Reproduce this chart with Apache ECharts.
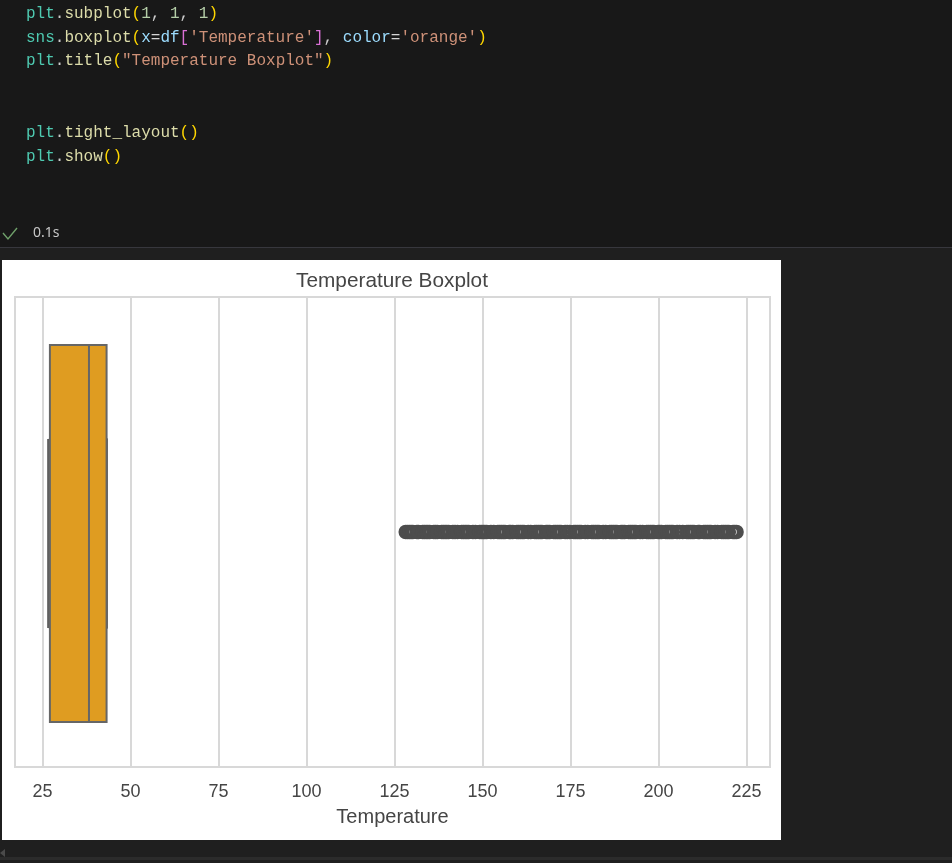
<!DOCTYPE html>
<html><head><meta charset="utf-8">
<style>html,body{margin:0;padding:0;background:#1f1f1f}#c{width:952px;height:863px}</style>
<script src="https://cdn.jsdelivr.net/npm/echarts@6/dist/echarts.min.js"></script>
</head><body><div id="c"></div>
<script>
const categories = ['Temperature'];
const whiskerLow = 26.6, q1 = 27.1, median = 38.2, q3 = 43.2, whiskerHigh = 43.3;
const tickValues = [25, 50, 75, 100, 125, 150, 175, 200, 225];
const outliers = [
128.2,128.7,129.2,129.7,130.2,131.4,131.8,
133.0,133.5,134.0,134.5,135.0,136.2,136.7,137.2,
138.4,138.9,139.4,139.9,140.4,141.6,142.2,142.9,
144.1,144.6,145.1,145.6,146.1,147.3,148.0,
149.2,149.7,150.2,150.7,151.2,152.4,153.2,
154.4,154.9,155.4,155.9,156.4,157.6,158.0,158.6,
159.8,160.3,160.8,161.3,161.8,163.0,163.7,
164.9,165.4,165.9,166.4,166.9,168.1,168.6,169.1,
170.3,170.8,171.3,171.8,172.3,173.5,174.1,174.8,
176.0,176.5,177.0,177.5,178.0,179.2,179.9,
181.1,181.6,182.1,182.6,183.1,184.3,185.0,
186.2,186.7,187.2,187.7,188.2,189.4,189.9,190.4,
191.6,192.1,192.6,193.1,193.6,194.8,195.5,
196.7,197.2,197.7,198.2,198.7,199.9,200.4,200.9,
202.1,202.6,203.1,203.6,204.1,205.3,206.0,206.9,
208.1,208.6,209.1,209.6,210.1,211.3,211.7,
212.9,213.4,213.9,214.4,214.9,216.1,216.8,
218.0,218.5,219.0,219.5,220.0,221.2,221.7,222.2
];
const codeLines = [
  {row:0, tokens:[['plt','#4ec9b0'],['.','#cccccc'],['subplot','#dcdcaa'],['(','#ffd700'],['1','#b5cea8'],[', ','#cccccc'],['1','#b5cea8'],[', ','#cccccc'],['1','#b5cea8'],[')','#ffd700']]},
  {row:1, tokens:[['sns','#4ec9b0'],['.','#cccccc'],['boxplot','#dcdcaa'],['(','#ffd700'],['x','#9cdcfe'],['=','#d4d4d4'],['df','#9cdcfe'],['[','#da70d6'],["'Temperature'",'#ce9178'],[']','#da70d6'],[', ','#cccccc'],['color','#9cdcfe'],['=','#d4d4d4'],["'orange'",'#ce9178'],[')','#ffd700']]},
  {row:2, tokens:[['plt','#4ec9b0'],['.','#cccccc'],['title','#dcdcaa'],['(','#ffd700'],['"Temperature Boxplot"','#ce9178'],[')','#ffd700']]},
  {row:5, tokens:[['plt','#4ec9b0'],['.','#cccccc'],['tight_layout','#dcdcaa'],['()','#ffd700']]},
  {row:6, tokens:[['plt','#4ec9b0'],['.','#cccccc'],['show','#dcdcaa'],['()','#ffd700']]}
];
const runTime = '0.1s';
const titleText = 'Temperature Boxplot';
const axisName = 'Temperature';

const SANS = '"Liberation Sans", Arial, sans-serif';
const MONO = '"Liberation Mono", monospace';
const TXT = '#454545', GRIDC = '#d8d8d8';
const XMIN = 17.18, XMAX = 231.7;

const graphics = [
  {type:'rect', silent:true, z:-10, shape:{x:0,y:0,width:952,height:247}, style:{fill:'#181818'}},
  {type:'rect', silent:true, z:-10, shape:{x:0,y:247,width:952,height:1}, style:{fill:'#37373d'}},
  {type:'rect', silent:true, z:-9, shape:{x:2,y:260,width:779,height:580}, style:{fill:'#ffffff'}},
  {type:'rect', silent:true, z:-9, shape:{x:0,y:857,width:952,height:3}, style:{fill:'#2b2b2b'}},
  {type:'polygon', silent:true, z:-9, shape:{points:[[0,853],[5,849],[5,857]]}, style:{fill:'#4a4a4a'}},
  {type:'polyline', silent:true, z:-9, shape:{points:[[3,233],[8,239],[17,228]]}, style:{stroke:'#6fa06a',lineWidth:1.4,fill:null}},
  {type:'text', silent:true, x:33, y:233, style:{text:runTime, font:'14px "Noto Sans", sans-serif', fill:'#c8c8c8', verticalAlign:'middle'}}
];
codeLines.forEach(l => {
  let col = 0;
  l.tokens.forEach(t => {
    graphics.push({type:'text', silent:true, x:26+col*9.6, y:13.5+l.row*23.8,
      style:{text:t[0], font:'16px '+MONO, fill:t[1], verticalAlign:'middle'}});
    col += t[0].length;
  });
});

const hiddenCat = {type:'category', data:categories, gridIndex:1, show:false};
const chart = echarts.init(document.getElementById('c'), null, {width:952, height:863});
chart.setOption({
  animation:false,
  backgroundColor:'#1f1f1f',
  title:{text:titleText, left:387, top:266, textAlign:'center',
    textStyle:{fontFamily:SANS, fontSize:20.8, fontWeight:'normal', color:TXT}},
  grid:[
    {left:15, top:297, width:755, height:470, show:true, borderColor:GRIDC, borderWidth:2, backgroundColor:'transparent'},
    {left:15, top:298.5, width:755, height:470, show:false}
  ],
  xAxis:[
    {type:'value', min:XMIN, max:XMAX,
     name:axisName, nameLocation:'middle', nameGap:40,
     nameTextStyle:{fontFamily:SANS, fontSize:20, color:TXT},
     axisLine:{show:false},
     axisTick:{show:false, customValues:tickValues},
     axisLabel:{customValues:tickValues, margin:16, fontFamily:SANS, fontSize:18, color:TXT, formatter:v=>String(v)},
     splitLine:{show:true, lineStyle:{color:GRIDC, width:2}}},
    {type:'value', min:XMIN, max:XMAX, gridIndex:1, show:false, splitLine:{show:false}}
  ],
  yAxis:[
    {type:'category', data:categories, axisLine:{show:false}, axisTick:{show:false}, axisLabel:{show:false}, splitLine:{show:false}},
    hiddenCat,
    Object.assign({}, hiddenCat)
  ],
  graphic:graphics,
  series:[
    {type:'boxplot', xAxisIndex:1, yAxisIndex:2, data:[[whiskerLow,q1,median,q3,whiskerHigh]], boxWidth:[189,189], silent:true, z:3,
      itemStyle:{color:'#df9c21', borderColor:'#5f5f5f', borderWidth:2}},
    {type:'boxplot', xAxisIndex:1, yAxisIndex:1, data:[[q1,q1,median,q3,q3]], boxWidth:[377,377], silent:true, z:4,
      itemStyle:{color:'#df9c21', borderColor:'#666666', borderWidth:2}},
    {type:'scatter', xAxisIndex:0, yAxisIndex:0, data:outliers.map(v=>[v,categories[0]]), symbol:'circle', symbolSize:10.9, silent:true, z:5,
      itemStyle:{color:'rgba(0,0,0,0)', borderColor:'#4d4d4d', borderWidth:3.6, opacity:1}}
  ]
});
</script></body></html>
